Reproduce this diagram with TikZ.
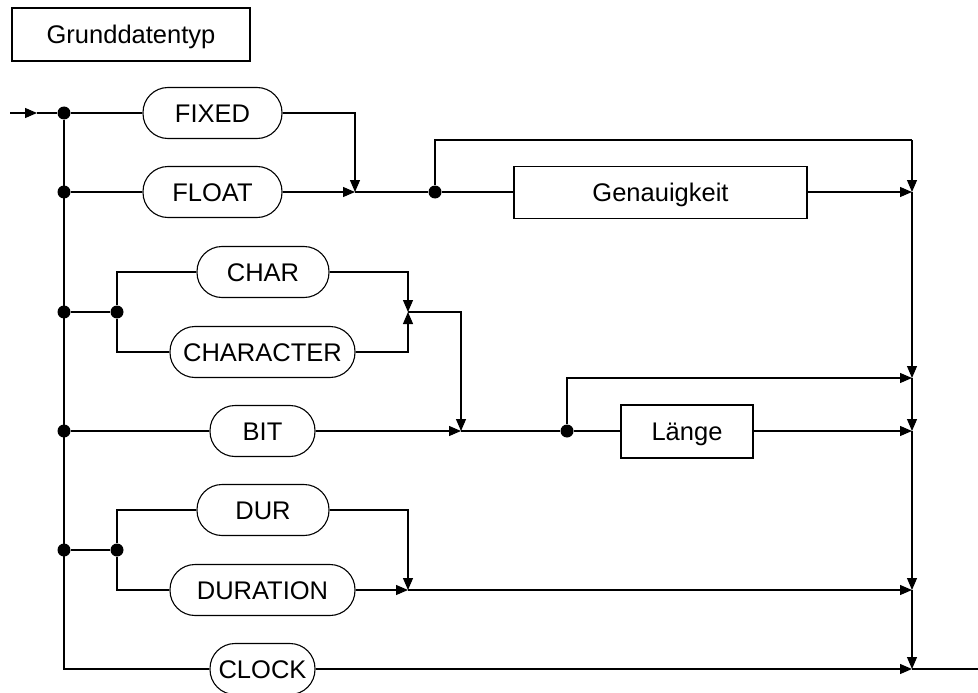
\documentclass[tikz,border=0pt]{standalone}
\usepackage{fontspec}
\setmainfont{Liberation Sans}
\usetikzlibrary{arrows.meta}
\begin{document}
\begin{tikzpicture}[x=1pt,y=-1pt,
  line width=1.1pt,
  every node/.style={font=\fontsize{25.5}{30}\selectfont, inner sep=0pt,
    text height=18.3pt, text depth=0pt},
  pill/.style={draw, rectangle, rounded corners=25pt, minimum height=51pt},
  termbox/.style={draw, rectangle, minimum height=52pt},
  dot/.style={circle, fill=black, minimum size=13pt, inner sep=0pt,
    text height=0pt, text depth=0pt},
  arr/.style={-{Triangle[length=12pt,width=10pt]}}]
\useasboundingbox (0,0) rectangle (978,693);
\clip (0,0) rectangle (978,693);

% title
\node[termbox, minimum width=238pt, minimum height=53pt] (title) at (131,34.5) {Grunddatentyp};

% keywords
\node[pill, minimum width=139pt] (fixed) at (212.5,113) {FIXED};
\node[pill, minimum width=139pt] (float) at (212.5,192) {FLOAT};
\node[pill, minimum width=132pt] (char) at (263,272) {CHAR};
\node[pill, minimum width=185pt] (character) at (262.5,352) {CHARACTER};
\node[pill, minimum width=105pt] (bit) at (262.5,431) {BIT};
\node[pill, minimum width=132pt] (dur) at (263,510) {DUR};
\node[pill, minimum width=185pt] (duration) at (262.5,590) {DURATION};
\node[pill, minimum width=105pt] (clock) at (262.5,669) {CLOCK};

% nonterminals
\node[termbox, minimum width=293pt] (gen) at (660.5,192.5) {Genauigkeit};
\node[termbox, minimum width=132pt, minimum height=53pt] (len) at (687,431.5) {Länge};

% branch dots
\node[dot] (d1) at (64,113) {};
\node[dot] (d2) at (64,192) {};
\node[dot] (d3) at (64,312) {};
\node[dot] (d4) at (64,431) {};
\node[dot] (d5) at (64,550) {};
\node[dot] (e3) at (117,312) {};
\node[dot] (e5) at (117,550) {};
\node[dot] (g) at (435,192) {};
\node[dot] (l) at (567,431) {};

% junctions
\coordinate (start) at (10,113);
\coordinate (entry) at (37,113);
\coordinate (corner) at (64,669);
\coordinate (j1) at (355,192);
\coordinate (j3) at (408,312);
\coordinate (j3r) at (461,312);
\coordinate (j4) at (461,431);
\coordinate (j5) at (408,590);
\coordinate (gtop) at (435,140);
\coordinate (rtop) at (912,140);
\coordinate (r1) at (912,192);
\coordinate (r2) at (912,378);
\coordinate (r3) at (912,431);
\coordinate (r4) at (912,590);
\coordinate (r5) at (912,669);
\coordinate (ltop) at (567,378);
\coordinate (exit) at (978,669);

% entry and left spine
\draw[arr] (start) -- (entry);
\draw (entry) -- (d1);
\draw (d1) -- (corner) -- (clock.west);
\draw (d1) -- (fixed.west);
\draw (d2) -- (float.west);
\draw (d3) -- (e3);
\draw (e3) |- (char.west);
\draw (e3) |- (character.west);
\draw (d4) -- (bit.west);
\draw (d5) -- (e5);
\draw (e5) |- (dur.west);
\draw (e5) |- (duration.west);

% FIXED / FLOAT with optional precision
\draw[arr] (fixed.east) -| (j1);
\draw[arr] (float.east) -- (j1);
\draw (j1) -- (g);
\draw (g) -- (gen.west |- g);
\draw (g) -- (gtop) -- (rtop);
\draw[arr] (gen.east |- r1) -- (r1);

% CHAR / CHARACTER / BIT with optional length
\draw[arr] (char.east) -| (j3);
\draw[arr] (character.east) -| (j3);
\draw[arr] (j3) -- (j3r) -- (j4);
\draw[arr] (bit.east) -- (j4);
\draw (j4) -- (l);
\draw (l) -- (len.west |- l);
\draw[arr] (len.east |- r3) -- (r3);
\draw[arr] (l) -- (ltop) -- (r2);

% DUR / DURATION
\draw[arr] (dur.east) -| (j5);
\draw[arr] (duration.east) -- (j5);
\draw[arr] (j5) -- (r4);

% CLOCK
\draw[arr] (clock.east) -- (r5);

% right spine
\draw[arr] (rtop) -- (r1);
\draw[arr] (r1) -- (r2);
\draw[arr] (r2) -- (r3);
\draw[arr] (r3) -- (r4);
\draw[arr] (r4) -- (r5);
\draw (r5) -- (exit);
\end{tikzpicture}
\end{document}
